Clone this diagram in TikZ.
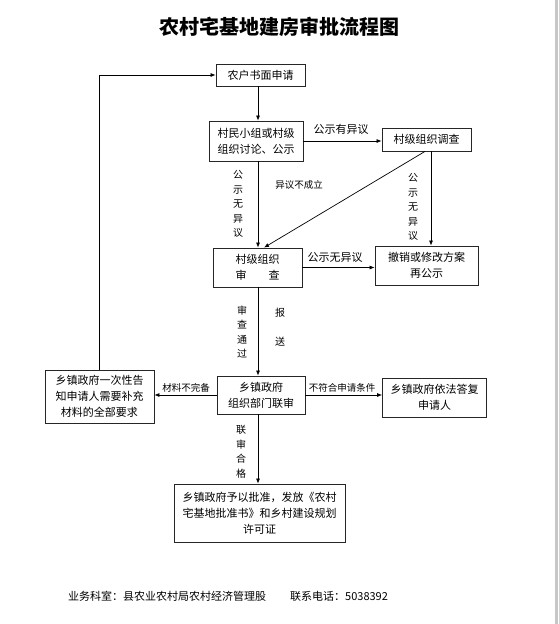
\documentclass[tikz,border=0pt]{standalone}
\usepackage{fontspec}
\setmainfont{Noto Sans CJK SC}
\usetikzlibrary{arrows.meta,calc}
\begin{document}
\begin{tikzpicture}[x=1pt,y=-1pt,
  box/.style={draw=black!85, line width=0.8pt, align=center, inner sep=0pt, font=\fontsize{11}{16}\selectfont},
  arr/.style={-{Latex[length=5pt,width=4pt]}, line width=0.7pt},
  lbl/.style={font=\fontsize{11}{13}\selectfont, inner sep=0pt},
  slbl/.style={font=\fontsize{9.5}{11}\selectfont, inner sep=0pt},
  vlbl/.style={font=\fontsize{10}{14.5}\selectfont, align=center, inner sep=0pt}]
\useasboundingbox (0,0) rectangle (558,624);
\fill[white] (0,0) rectangle (558,624);
\fill[black!22] (555,0) rectangle (558,624);

\node[font=\fontsize{20}{24}\selectfont\bfseries] (title) at (279,27) {农村宅基地建房审批流程图};

\node[box, minimum width=89pt, minimum height=22pt] (n1) at (260.5,75) {农户书面申请};
\node[box, minimum width=94pt, minimum height=40pt] (n2) at (256,141) {村民小组或村级\\组织讨论、公示};
\node[box, minimum width=89pt, minimum height=23pt] (n3) at (426.5,139.5) {村级组织调查};
\node[box, minimum width=89pt, minimum height=39pt] (n4) at (257.5,267.5) {村级组织\\审\hspace{2em}查};
\node[box, minimum width=103pt, minimum height=39pt] (n5) at (426.5,265.5) {撤销或修改方案\\再公示};
\node[box, minimum width=88pt, minimum height=38pt] (n6) at (261,395) {乡镇政府\\组织部门联审};
\node[box, minimum width=109pt, minimum height=53pt] (n7) at (99.5,396.5) {乡镇政府一次性告\\知申请人需要补充\\材料的全部要求};
\node[box, minimum width=104pt, minimum height=39pt] (n8) at (434.5,397.5) {乡镇政府依法答复\\申请人};
\node[box, minimum width=171pt, minimum height=58pt] (n9) at (259.5,513) {乡镇政府予以批准，发放《农村\\宅基地批准书》和乡村建设规划\\许可证};

\coordinate (sp) at (258,0);
\coordinate (rv) at (431,0);
\coordinate (dg) at (425,0);
\coordinate (dt) at (264,0);

\draw[arr] (n1.south -| sp) -- (n2.north -| sp);
\draw[arr] (n2.south -| sp) -- (n4.north -| sp);
\draw[arr] (n4.south -| sp) -- (n6.north -| sp);
\draw[arr] (n6.south -| sp) -- (n9.north -| sp);
\draw[arr] (n2.east) -- (n2.east -| n3.west);
\draw[arr] (n3.south -| rv) -- (n5.north -| rv);
\draw[arr] (n3.south -| dg) -- (n4.north -| dt);
\draw[arr] (n4.east) -- (n4.east -| n5.west);
\draw[arr] (n6.west) -- (n6.west -| n7.east);
\draw[arr] (n6.east) -- (n6.east -| n8.west);
\draw[arr] (n7.north) |- (n1.west);

\node[lbl] (l1) at (341,129) {公示有异议};
\node[slbl] (l2) at (299,185) {异议不成立};
\node[vlbl] (l3) at (238,204) {公\\示\\无\\异\\议};
\node[vlbl] (l4) at (413,207) {公\\示\\无\\异\\议};
\node[lbl] (l5) at (335,257) {公示无异议};
\node[vlbl] (l6) at (242,332) {审\\查\\通\\过};
\node[vlbl] (l7) at (280,313) {报};
\node[vlbl] (l8) at (280,342) {送};
\node[slbl] (l9) at (186,388) {材料不完备};
\node[slbl] (l10) at (342,388) {不符合申请条件};
\node[vlbl] (l11) at (241,452) {联\\审\\合\\格};

\node[lbl, anchor=west] (f1) at (68,596) {业务科室：县农业农村局农村经济管理股};
\node[lbl, anchor=west] (f2) at (290,596) {联系电话：5038392};
\end{tikzpicture}
\end{document}
